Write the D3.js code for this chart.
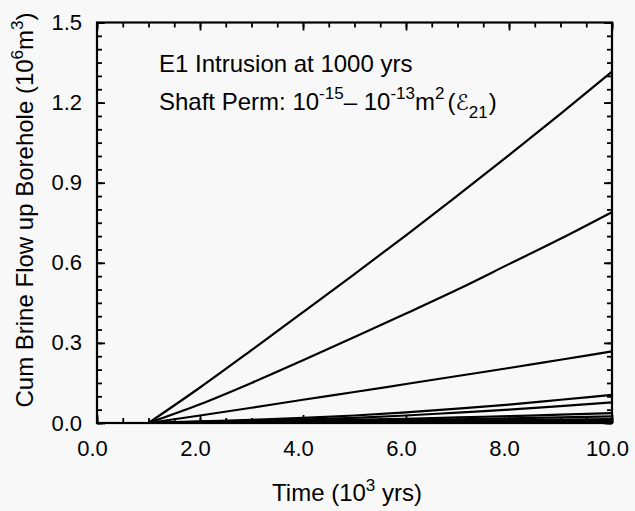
<!DOCTYPE html>
<html>
<head>
<meta charset="utf-8">
<script src="https://cdn.jsdelivr.net/npm/d3@7"></script>
<style>
  html, body { margin: 0; padding: 0; background: #f8f8f8; }
  svg { display: block; font-family: "Liberation Sans", Arial, Helvetica, sans-serif; }
</style>
</head>
<body>
<svg id="chart" width="635" height="511"></svg>
<script>
// ---- data (time in 10^3 yrs, cumulative flow in 10^6 m^3) ----
const years = [1, 2, 3, 4, 5, 6, 7, 8, 9, 10];
const flowA = [0, 0.133, 0.273, 0.415, 0.558, 0.703, 0.852, 1.003, 1.158, 1.316];
const flowB = [0, 0.07, 0.15, 0.235, 0.322, 0.41, 0.50, 0.595, 0.69, 0.79];
const flowC = [0, 0.028, 0.057, 0.087, 0.116, 0.146, 0.176, 0.206, 0.237, 0.268];
const flowD = [0, 0.006, 0.012, 0.019, 0.028, 0.040, 0.054, 0.069, 0.087, 0.105];
const flowE = [0, 0.004, 0.008, 0.013, 0.019, 0.028, 0.039, 0.050, 0.063, 0.077];
const flowF = [0, 0.002, 0.005, 0.008, 0.012, 0.016, 0.021, 0.026, 0.031, 0.037];
const flowG = [0, 0.001, 0.003, 0.005, 0.008, 0.011, 0.014, 0.017, 0.021, 0.025];
const flowH = [0, 0.001, 0.002, 0.003, 0.005, 0.007, 0.009, 0.011, 0.013, 0.015];
const flowI = [0, 0, 0.001, 0.002, 0.003, 0.004, 0.005, 0.006, 0.008, 0.009];
const flowJ = [0, 0, 0.001, 0.001, 0.002, 0.002, 0.003, 0.003, 0.004, 0.005];
const flowK = [0, 0, 0, 0.001, 0.001, 0.001, 0.002, 0.002, 0.002, 0.003];
const flowL = [0, 0, 0, 0, 0.0005, 0.0007, 0.001, 0.001, 0.0012, 0.0015];
const allSeries = [flowA, flowB, flowC, flowD, flowE, flowF, flowG, flowH, flowI, flowJ, flowK, flowL];

const xMajorTicks = [0, 2, 4, 6, 8, 10];
const xTickLabels = ["0.0", "2.0", "4.0", "6.0", "8.0", "10.0"];
const yMajorTicks = [0, 0.3, 0.6, 0.9, 1.2, 1.5];
const yTickLabels = ["0.0", "0.3", "0.6", "0.9", "1.2", "1.5"];

// ---- layout ----
const L = 97, R = 612, T = 22.5, B = 423;
const svg = d3.select("#chart");
const x = d3.scaleLinear().domain([0, 10]).range([L, R]);
const y = d3.scaleLinear().domain([0, 1.5]).range([B, T]);

const xMinor = d3.range(0, 10.001, 0.5);
const yMinor = d3.range(0, 1.5001, 0.05);

function styleAxis(g) {
  g.select(".domain").remove();
  g.selectAll(".tick line").attr("stroke", "#000").attr("stroke-width", 1.8);
}

// minor ticks
svg.append("g").attr("transform", `translate(0,${B})`)
  .call(d3.axisBottom(x).tickValues(xMinor).tickSize(-5).tickFormat(""))
  .call(styleAxis);
svg.append("g").attr("transform", `translate(0,${T})`)
  .call(d3.axisTop(x).tickValues(xMinor).tickSize(-5).tickFormat(""))
  .call(styleAxis);
svg.append("g").attr("transform", `translate(${L},0)`)
  .call(d3.axisLeft(y).tickValues(yMinor).tickSize(-5).tickFormat(""))
  .call(styleAxis);
svg.append("g").attr("transform", `translate(${R},0)`)
  .call(d3.axisRight(y).tickValues(yMinor).tickSize(-5).tickFormat(""))
  .call(styleAxis);

// major ticks
const xb = svg.append("g").attr("transform", `translate(0,${B})`)
  .call(d3.axisBottom(x).tickValues(xMajorTicks).tickSize(-8).tickPadding(17)
    .tickFormat((d, i) => xTickLabels[i]))
  .call(styleAxis);
xb.selectAll("text").attr("fill", "#000").attr("font-size", 22)
  .attr("font-family", "'Liberation Sans', Arial, sans-serif").attr("dx", -5);
svg.append("g").attr("transform", `translate(0,${T})`)
  .call(d3.axisTop(x).tickValues(xMajorTicks).tickSize(-8).tickFormat(""))
  .call(styleAxis);
const yl = svg.append("g").attr("transform", `translate(${L},0)`)
  .call(d3.axisLeft(y).tickValues(yMajorTicks).tickSize(-8).tickPadding(15)
    .tickFormat((d, i) => yTickLabels[i]))
  .call(styleAxis);
yl.selectAll("text").attr("fill", "#000").attr("font-size", 22)
  .attr("font-family", "'Liberation Sans', Arial, sans-serif");
svg.append("g").attr("transform", `translate(${R},0)`)
  .call(d3.axisRight(y).tickValues(yMajorTicks).tickSize(-8).tickFormat(""))
  .call(styleAxis);

// frame
svg.append("rect").attr("x", L).attr("y", T).attr("width", R - L).attr("height", B - T)
  .attr("fill", "none").attr("stroke", "#000").attr("stroke-width", 2.2);

// series lines
const line = d3.line().x((d, i) => x(years[i])).y(d => y(d)).curve(d3.curveMonotoneX);
svg.append("g").selectAll("path").data(allSeries).join("path")
  .attr("d", line)
  .attr("fill", "none").attr("stroke", "#000").attr("stroke-width", 2.2);

// axis titles
const xt = svg.append("text").attr("x", 347).attr("y", 501).attr("text-anchor", "middle")
  .attr("font-size", 24).attr("fill", "#000");
xt.append("tspan").text("Time (10");
xt.append("tspan").attr("dy", -10).attr("font-size", 17).text("3");
xt.append("tspan").attr("dy", 10).text(" yrs)");

const yt = svg.append("text").attr("transform", "translate(33,210) rotate(-90)")
  .attr("text-anchor", "middle").attr("font-size", 24).attr("fill", "#000");
yt.append("tspan").text("Cum Brine Flow up Borehole (10");
yt.append("tspan").attr("dy", -10).attr("font-size", 17).text("6");
yt.append("tspan").attr("dy", 10).text("m");
yt.append("tspan").attr("dy", -10).attr("font-size", 17).text("3");
yt.append("tspan").attr("dy", 10).text(")");

// annotation
svg.append("text").attr("x", 159).attr("y", 72).attr("font-size", 24).attr("fill", "#000")
  .text("E1 Intrusion at 1000 yrs");
const an = svg.append("text").attr("x", 159).attr("y", 110).attr("font-size", 24).attr("fill", "#000");
an.append("tspan").text("Shaft Perm: 10");
an.append("tspan").attr("dy", -11).attr("font-size", 17).text("-15");
an.append("tspan").attr("dy", 11).text("– 10");
an.append("tspan").attr("dy", -11).attr("font-size", 17).text("-13");
an.append("tspan").attr("dy", 11).text("m");
an.append("tspan").attr("dy", -11).attr("font-size", 17).text("2");
an.append("tspan").attr("dy", 11).attr("dx", 3).text("(");
an.append("tspan").attr("font-family", "'DejaVu Sans', sans-serif").attr("font-size", 22).text("ℰ");
an.append("tspan").attr("dy", 8).attr("font-size", 17).text("21");
an.append("tspan").attr("dy", -8).attr("dx", 1).text(")");
</script>
</body>
</html>
